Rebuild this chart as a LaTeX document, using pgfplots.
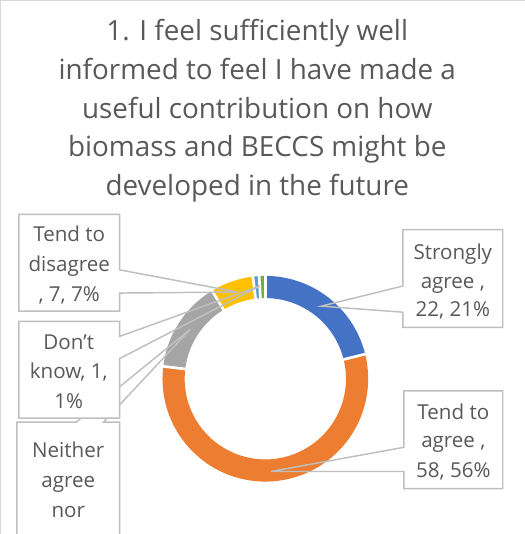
\documentclass[border=0pt]{standalone}
\usepackage{pgfplots}
\pgfplotsset{compat=1.18}
\usepackage{fontspec}
\setmainfont{Open Sans}
\definecolor{cBlue}{HTML}{4472C4}
\definecolor{cOrange}{HTML}{ED7D31}
\definecolor{cGray}{HTML}{A5A5A5}
\definecolor{cYellow}{HTML}{FFC000}
\definecolor{cLBlue}{HTML}{5B9BD5}
\definecolor{cGreen}{HTML}{70AD47}
\definecolor{cText}{HTML}{595959}
\definecolor{cLine}{HTML}{BFBFBF}
\definecolor{cFrame}{HTML}{D9D9D9}
\newcommand\lbl{\fontsize{15.3}{18}\selectfont}
\newcommand\ttl{\fontsize{20.7}{25}\selectfont}
% data: Strongly agree, Tend to agree, Neither, Tend to disagree, Strongly disagree, Don't know
\def\vA{22}\def\vB{58}\def\vC{15}\def\vD{7}\def\vE{1}\def\vF{1}
\pgfmathsetmacro\tot{\vA+\vB+\vC+\vD+\vE+\vF}
\pgfmathsetmacro\aA{0}
\pgfmathsetmacro\aB{\vA/\tot*360}
\pgfmathsetmacro\aC{(\vA+\vB)/\tot*360}
\pgfmathsetmacro\aD{(\vA+\vB+\vC)/\tot*360}
\pgfmathsetmacro\aE{(\vA+\vB+\vC+\vD)/\tot*360}
\pgfmathsetmacro\aF{(\vA+\vB+\vC+\vD+\vE)/\tot*360}
\pgfmathsetmacro\aG{360}
\def\cx{267.5}\def\cy{380}\def\rm{91}
\begin{document}
\begin{tikzpicture}
\begin{axis}[
  width=393.75pt, height=400.5pt, scale only axis,
  xmin=0, xmax=525, ymin=0, ymax=534, y dir=reverse,
  axis lines=none, ticks=none,
]
% frame
\draw[cFrame, line width=1pt] (axis cs:5,540) -- (axis cs:5,5) -- (axis cs:530,5);
% donut ring
\addplot[draw=cBlue, line width=16.5pt, domain=\aA:\aB, samples=80, no marks] ({\cx+\rm*sin(x)},{\cy-\rm*cos(x)});
\addplot[draw=cOrange, line width=16.5pt, domain=\aB:\aC, samples=120, no marks] ({\cx+\rm*sin(x)},{\cy-\rm*cos(x)});
\addplot[draw=cGray, line width=16.5pt, domain=\aC:\aD, samples=60, no marks] ({\cx+\rm*sin(x)},{\cy-\rm*cos(x)});
\addplot[draw=cYellow, line width=16.5pt, domain=\aD:\aE, samples=40, no marks] ({\cx+\rm*sin(x)},{\cy-\rm*cos(x)});
\addplot[draw=cLBlue, line width=16.5pt, domain=\aE:\aF, samples=20, no marks] ({\cx+\rm*sin(x)},{\cy-\rm*cos(x)});
\addplot[draw=cGreen, line width=16.5pt, domain=\aF:\aG, samples=20, no marks] ({\cx+\rm*sin(x)},{\cy-\rm*cos(x)});
% slice borders
\draw[white, line width=2pt] (axis cs:{\cx+75*sin(\aA)},{\cy-75*cos(\aA)}) -- (axis cs:{\cx+107*sin(\aA)},{\cy-107*cos(\aA)});
\draw[white, line width=2pt] (axis cs:{\cx+75*sin(\aB)},{\cy-75*cos(\aB)}) -- (axis cs:{\cx+107*sin(\aB)},{\cy-107*cos(\aB)});
\draw[white, line width=2pt] (axis cs:{\cx+75*sin(\aC)},{\cy-75*cos(\aC)}) -- (axis cs:{\cx+107*sin(\aC)},{\cy-107*cos(\aC)});
\draw[white, line width=2pt] (axis cs:{\cx+75*sin(\aD)},{\cy-75*cos(\aD)}) -- (axis cs:{\cx+107*sin(\aD)},{\cy-107*cos(\aD)});
\draw[white, line width=2pt] (axis cs:{\cx+75*sin(\aE)},{\cy-75*cos(\aE)}) -- (axis cs:{\cx+107*sin(\aE)},{\cy-107*cos(\aE)});
\draw[white, line width=2pt] (axis cs:{\cx+75*sin(\aF)},{\cy-75*cos(\aF)}) -- (axis cs:{\cx+107*sin(\aF)},{\cy-107*cos(\aF)});
% title
\node[anchor=base, font=\ttl, text=cText] at (axis cs:259.5,44.5) {1. I feel sufficiently well};
\node[anchor=base, font=\ttl, text=cText] at (axis cs:259.5,83) {informed to feel I have made a};
\node[anchor=base, font=\ttl, text=cText] at (axis cs:259.5,121.5) {useful contribution on how};
\node[anchor=base, font=\ttl, text=cText] at (axis cs:259.5,160) {biomass and BECCS might be};
\node[anchor=base, font=\ttl, text=cText] at (axis cs:259.5,198.5) {developed in the future};
% Neither callout
\fill[white] (axis cs:21,423) rectangle (axis cs:123,540);
\draw[cLine, line width=1.1pt] (axis cs:21,540) -- (axis cs:21,423) -- (axis cs:80,423) -- (axis cs:193,331) -- (axis cs:107,423) -- (axis cs:123,423) -- (axis cs:123,540);
% Don't know callout
\fill[white] (axis cs:23,323) rectangle (axis cs:123,419);
\draw[cLine, line width=1.1pt] (axis cs:23,323) -- (axis cs:123,323) -- (axis cs:123,338) -- (axis cs:262,288) -- (axis cs:123,360) -- (axis cs:123,419) -- (axis cs:23,419) -- cycle;
% Tend to disagree callout
\fill[white] (axis cs:23,217) rectangle (axis cs:123,313);
\draw[cLine, line width=1.1pt] (axis cs:23,217) -- (axis cs:123,217) -- (axis cs:123,272) -- (axis cs:240,294) -- (axis cs:123,295) -- (axis cs:123,313) -- (axis cs:23,313) -- cycle;
% Strongly agree callout
\fill[white] (axis cs:404,232) rectangle (axis cs:503,329);
\draw[cLine, line width=1.1pt] (axis cs:404,232) -- (axis cs:503,232) -- (axis cs:503,329) -- (axis cs:404,329) -- (axis cs:404,314) -- (axis cs:323,308) -- (axis cs:404,288) -- cycle;
% Tend to agree callout
\fill[white] (axis cs:405,392) rectangle (axis cs:503,489);
\draw[cLine, line width=1.1pt] (axis cs:405,392) -- (axis cs:503,392) -- (axis cs:503,489) -- (axis cs:405,489) -- (axis cs:405,472) -- (axis cs:273,472) -- (axis cs:405,448) -- cycle;
% labels
\node[anchor=base, font=\lbl, text=cText] at (axis cs:73,244) {Tend to};
\node[anchor=base, font=\lbl, text=cText] at (axis cs:73,273.5) {disagree};
\node[anchor=base, font=\lbl, text=cText] at (axis cs:73,303) {, 7, 7\%};
\node[anchor=base, font=\lbl, text=cText] at (axis cs:72.5,350.5) {Don’t};
\node[anchor=base, font=\lbl, text=cText] at (axis cs:72.5,380) {know, 1,};
\node[anchor=base, font=\lbl, text=cText] at (axis cs:72.5,409.5) {1\%};
\node[anchor=base, font=\lbl, text=cText] at (axis cs:72,458.3) {Neither};
\node[anchor=base, font=\lbl, text=cText] at (axis cs:72,487.8) {agree};
\node[anchor=base, font=\lbl, text=cText] at (axis cs:72,517.3) {nor};
\node[anchor=base, font=\lbl, text=cText] at (axis cs:453.5,261.7) {Strongly};
\node[anchor=base, font=\lbl, text=cText] at (axis cs:453.5,290) {agree ,};
\node[anchor=base, font=\lbl, text=cText] at (axis cs:453.5,318.3) {22, 21\%};
\node[anchor=base, font=\lbl, text=cText] at (axis cs:454,420) {Tend to};
\node[anchor=base, font=\lbl, text=cText] at (axis cs:454,448.3) {agree ,};
\node[anchor=base, font=\lbl, text=cText] at (axis cs:454,478.3) {58, 56\%};
\end{axis}
\end{tikzpicture}
\end{document}
